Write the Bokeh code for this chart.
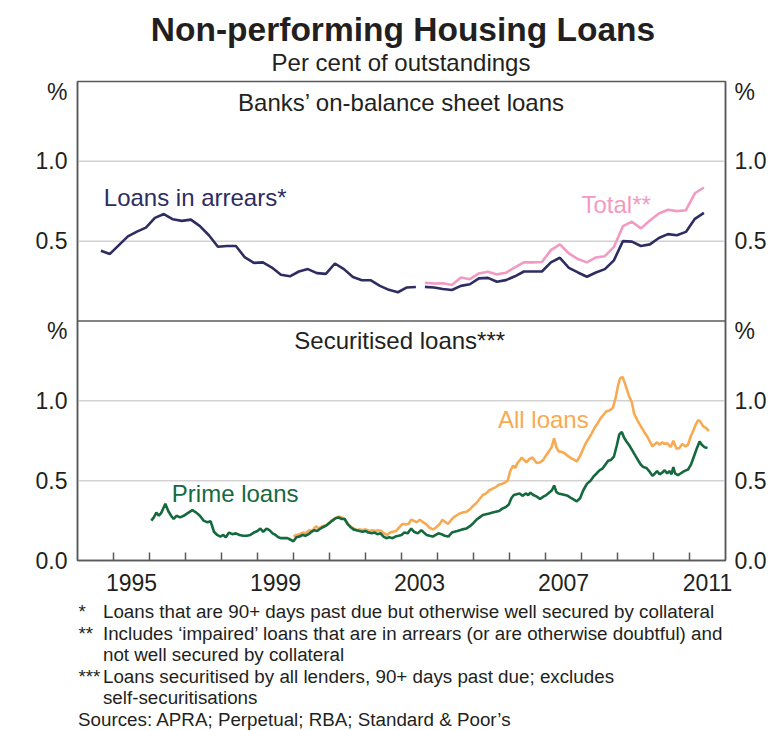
from bokeh.plotting import figure
from bokeh.models import Range1d, LinearAxis, FixedTicker, Span, Label
from bokeh.layouts import column
from bokeh.embed import file_html
from bokeh.resources import INLINE

FONT = "Liberation Sans"
TXT = "#231f20"
AXC = "#5a5a5a"
GRIDC = "#d2d2d2"
NAVY = "#2e2d62"
PINK = "#f39ac2"
ORANGE = "#f8aa52"
GREEN = "#15693f"
LW = 2.6

# ---------------- data ----------------
# Banks' on-balance sheet loans (quarterly), series break in 2003
arrears_start_1 = 1994.65
arrears_1 = [0.44, 0.42, 0.475, 0.53, 0.56, 0.585, 0.646, 0.67, 0.637, 0.627,
             0.635, 0.594, 0.537, 0.465, 0.47, 0.47, 0.398, 0.364, 0.367, 0.335,
             0.29, 0.28, 0.31, 0.325, 0.30, 0.295, 0.36, 0.325, 0.275, 0.255,
             0.255, 0.22, 0.195, 0.18, 0.21, 0.213]
arrears_start_2 = 2003.65
arrears_2 = [0.214, 0.21, 0.20, 0.194, 0.22, 0.23, 0.267, 0.27, 0.246, 0.256,
             0.28, 0.31, 0.31, 0.31, 0.367, 0.396, 0.333, 0.304, 0.277, 0.304,
             0.325, 0.38, 0.50, 0.497, 0.47, 0.48, 0.52, 0.544, 0.537, 0.558,
             0.64, 0.677]
total = [0.24, 0.235, 0.236, 0.225, 0.273, 0.262, 0.298, 0.308, 0.292, 0.302,
         0.336, 0.367, 0.367, 0.37, 0.444, 0.48, 0.423, 0.388, 0.367, 0.398,
         0.406, 0.464, 0.594, 0.622, 0.58, 0.63, 0.673, 0.697, 0.688, 0.694,
         0.80, 0.836]

# Securitised loans
prime_dates = [1996.05, 1996.12, 1996.19, 1996.26, 1996.33, 1996.44, 1996.52, 1996.60, 1996.67, 1996.75,
               1996.85, 1996.95, 1997.05, 1997.19, 1997.30, 1997.40, 1997.50, 1997.60, 1997.70, 1997.79,
               1997.88, 1997.97, 1998.05, 1998.12, 1998.21, 1998.30, 1998.40, 1998.50, 1998.60, 1998.70,
               1998.80, 1998.90, 1999.00, 1999.08, 1999.16, 1999.25, 1999.33, 1999.42, 1999.50, 1999.58,
               1999.66, 1999.75, 1999.83, 1999.92, 2000.00, 2000.08, 2000.17, 2000.25, 2000.33, 2000.42,
               2000.50, 2000.58, 2000.66, 2000.75, 2000.83, 2000.92, 2001.00, 2001.08, 2001.17, 2001.25,
               2001.33, 2001.42, 2001.50, 2001.58, 2001.66, 2001.75, 2001.83, 2001.92, 2002.00, 2002.08,
               2002.17, 2002.25, 2002.33, 2002.42, 2002.50, 2002.58, 2002.66, 2002.75, 2002.83, 2002.92,
               2003.00, 2003.08, 2003.17, 2003.27, 2003.35, 2003.45, 2003.55, 2003.62, 2003.70, 2003.78,
               2003.87, 2003.95, 2004.03, 2004.11, 2004.20, 2004.30, 2004.40, 2004.47, 2004.55, 2004.62,
               2004.70, 2004.80, 2004.90, 2005.00, 2005.08, 2005.17, 2005.26, 2005.35, 2005.44, 2005.53,
               2005.62, 2005.71, 2005.80, 2005.90, 2005.98, 2006.05, 2006.12, 2006.20, 2006.28, 2006.36,
               2006.45, 2006.52, 2006.58, 2006.66, 2006.76, 2006.85, 2006.94, 2007.02, 2007.10, 2007.18,
               2007.24, 2007.30, 2007.36, 2007.45, 2007.54, 2007.62, 2007.72, 2007.80, 2007.87, 2007.96,
               2008.05, 2008.15, 2008.25, 2008.33, 2008.42, 2008.50, 2008.58, 2008.66, 2008.74, 2008.82,
               2008.90, 2008.98, 2009.05, 2009.12, 2009.18, 2009.25, 2009.33, 2009.41, 2009.50, 2009.58,
               2009.65, 2009.72, 2009.80, 2009.88, 2009.97, 2010.04, 2010.10, 2010.17, 2010.24, 2010.31,
               2010.38, 2010.44, 2010.50, 2010.55, 2010.60, 2010.68, 2010.75, 2010.85, 2010.96, 2011.04,
               2011.12, 2011.20, 2011.28, 2011.34, 2011.42, 2011.50]
prime = [0.25, 0.27, 0.30, 0.28, 0.30, 0.355, 0.31, 0.28, 0.26, 0.28,
         0.27, 0.28, 0.295, 0.315, 0.30, 0.28, 0.25, 0.24, 0.245, 0.18,
         0.16, 0.15, 0.16, 0.145, 0.175, 0.165, 0.17, 0.16, 0.155, 0.155,
         0.16, 0.175, 0.185, 0.20, 0.18, 0.20, 0.19, 0.17, 0.16, 0.145,
         0.14, 0.14, 0.14, 0.13, 0.12, 0.145, 0.15, 0.16, 0.155, 0.165,
         0.18, 0.19, 0.185, 0.20, 0.21, 0.22, 0.235, 0.25, 0.265, 0.27,
         0.26, 0.26, 0.23, 0.21, 0.195, 0.19, 0.185, 0.18, 0.185, 0.175,
         0.17, 0.175, 0.165, 0.17, 0.15, 0.14, 0.145, 0.14, 0.15, 0.155,
         0.16, 0.175, 0.17, 0.20, 0.18, 0.17, 0.19, 0.175, 0.16, 0.155,
         0.15, 0.16, 0.17, 0.165, 0.155, 0.15, 0.175, 0.18, 0.185, 0.19,
         0.195, 0.20, 0.215, 0.235, 0.255, 0.27, 0.285, 0.29, 0.295, 0.30,
         0.305, 0.31, 0.325, 0.335, 0.35, 0.39, 0.41, 0.415, 0.42, 0.405,
         0.42, 0.41, 0.425, 0.41, 0.40, 0.385, 0.40, 0.41, 0.425, 0.44,
         0.47, 0.43, 0.42, 0.415, 0.41, 0.405, 0.39, 0.38, 0.37, 0.39,
         0.44, 0.48, 0.50, 0.525, 0.545, 0.565, 0.575, 0.60, 0.625, 0.63,
         0.65, 0.72, 0.79, 0.805, 0.77, 0.745, 0.72, 0.69, 0.655, 0.625,
         0.60, 0.585, 0.58, 0.56, 0.53, 0.545, 0.56, 0.54, 0.55, 0.565,
         0.545, 0.56, 0.54, 0.585, 0.545, 0.535, 0.545, 0.56, 0.57, 0.60,
         0.65, 0.70, 0.745, 0.725, 0.71, 0.705]

all_dates = [2000.00, 2000.08, 2000.17, 2000.26, 2000.33, 2000.44, 2000.52, 2000.62, 2000.70, 2000.80,
             2000.90, 2000.98, 2001.06, 2001.16, 2001.25, 2001.34, 2001.42, 2001.52, 2001.60, 2001.68,
             2001.76, 2001.85, 2001.92, 2002.00, 2002.10, 2002.19, 2002.28, 2002.36, 2002.43, 2002.52,
             2002.60, 2002.68, 2002.76, 2002.85, 2002.95, 2003.03, 2003.12, 2003.20, 2003.27, 2003.33,
             2003.42, 2003.51, 2003.60, 2003.70, 2003.78, 2003.87, 2003.95, 2004.05, 2004.14, 2004.22,
             2004.30, 2004.40, 2004.48, 2004.55, 2004.62, 2004.70, 2004.80, 2004.90, 2004.98, 2005.08,
             2005.17, 2005.26, 2005.35, 2005.44, 2005.53, 2005.62, 2005.71, 2005.80, 2005.88, 2005.95,
             2006.02, 2006.10, 2006.16, 2006.22, 2006.28, 2006.34, 2006.40, 2006.47, 2006.55, 2006.64,
             2006.70, 2006.76, 2006.85, 2006.94, 2007.02, 2007.10, 2007.17, 2007.24, 2007.30, 2007.36,
             2007.45, 2007.54, 2007.62, 2007.72, 2007.80, 2007.87, 2007.96, 2008.03, 2008.12, 2008.20,
             2008.28, 2008.36, 2008.45, 2008.53, 2008.60, 2008.69, 2008.78, 2008.87, 2008.95, 2009.02,
             2009.07, 2009.14, 2009.22, 2009.32, 2009.40, 2009.46, 2009.56, 2009.65, 2009.74, 2009.83,
             2009.90, 2009.97, 2010.04, 2010.10, 2010.17, 2010.24, 2010.31, 2010.38, 2010.44, 2010.48,
             2010.55, 2010.64, 2010.72, 2010.80, 2010.88, 2010.96, 2011.03, 2011.10, 2011.17, 2011.24,
             2011.30, 2011.38, 2011.46, 2011.54]
all_loans = [0.15, 0.16, 0.165, 0.175, 0.17, 0.19, 0.185, 0.215, 0.20, 0.215,
             0.22, 0.235, 0.25, 0.265, 0.275, 0.27, 0.26, 0.225, 0.21, 0.20,
             0.19, 0.195, 0.19, 0.195, 0.185, 0.19, 0.185, 0.19, 0.185, 0.17,
             0.16, 0.175, 0.18, 0.185, 0.21, 0.23, 0.225, 0.23, 0.255, 0.25,
             0.24, 0.255, 0.24, 0.225, 0.205, 0.195, 0.205, 0.225, 0.255, 0.24,
             0.23, 0.26, 0.275, 0.285, 0.295, 0.30, 0.305, 0.32, 0.34, 0.36,
             0.385, 0.41, 0.42, 0.44, 0.45, 0.46, 0.475, 0.48, 0.49, 0.50,
             0.56, 0.595, 0.58, 0.61, 0.625, 0.645, 0.63, 0.615, 0.635, 0.645,
             0.625, 0.61, 0.615, 0.63, 0.66, 0.685, 0.71, 0.765, 0.71, 0.685,
             0.68, 0.67, 0.655, 0.64, 0.63, 0.62, 0.655, 0.69, 0.735, 0.765,
             0.795, 0.83, 0.86, 0.89, 0.91, 0.935, 0.94, 0.955, 1.02, 1.10,
             1.14, 1.15, 1.10, 1.03, 0.99, 0.92, 0.875, 0.84, 0.805, 0.775,
             0.745, 0.715, 0.73, 0.74, 0.725, 0.74, 0.73, 0.735, 0.72, 0.71,
             0.75, 0.70, 0.705, 0.73, 0.715, 0.725, 0.775, 0.81, 0.85, 0.88,
             0.87, 0.84, 0.83, 0.81]

# axes
x_start, x_end = 1994, 2012
year_labels = ["1995", "1999", "2003", "2007", "2011"]
y_ticks = [0.0, 0.5, 1.0]
y_labels = ["0.0", "0.5", "1.0"]
top_ticks = [0.5, 1.0]
top_labels = ["0.5", "1.0"]
panel_max = 1.5

# ---------------- layout ----------------
W = 769
HT = 78          # title block height
HF = 132         # footnote block height
FL, FR = 77, 726 # frame left/right (all blocks share these frame edges)
FRAME_TOP_PAD = 3
FRAME_H = 479
BOTTOM_PAD = 38
HM = FRAME_TOP_PAD + FRAME_H + BOTTOM_PAD


def text_block(height):
    # frame edges coincide with the chart frame, so x values are page pixels
    f = figure(width=W, height=height, output_backend="svg", toolbar_location=None,
               x_range=Range1d(FL, FR), y_range=Range1d(height, 0),
               x_axis_location=None, y_axis_location=None,
               min_border_left=FL, min_border_right=W - FR,
               min_border_top=0, min_border_bottom=0,
               background_fill_color="white", border_fill_color="white")
    f.outline_line_color = None
    f.xgrid.visible = False
    f.ygrid.visible = False
    return f


def plabel(f, x, y, text, size, align="left", bold=False, color=TXT):
    f.add_layout(Label(x=x, y=y, text=text, text_font=FONT, text_font_size=size, text_color=color,
                       text_font_style="bold" if bold else "normal",
                       text_align=align, text_baseline="middle"))


# title block
ft = text_block(HT)
plabel(ft, 403, 29, "Non-performing Housing Loans", "33.5px", "center", True)
plabel(ft, 401, 62, "Per cent of outstandings", "24px", "center")

# main chart
p = figure(width=W, height=HM, output_backend="svg", toolbar_location=None,
           x_range=Range1d(x_start, x_end), y_range=Range1d(0, 2 * panel_max),
           x_axis_location=None, y_axis_location=None,
           min_border_left=FL, min_border_right=W - FR,
           min_border_top=FRAME_TOP_PAD, min_border_bottom=BOTTOM_PAD,
           background_fill_color="white", border_fill_color="white")
p.extra_y_ranges = {"top": Range1d(-panel_max, panel_max)}
p.outline_line_color = AXC
p.outline_line_width = 1.5
p.xgrid.visible = False
p.ygrid.visible = False

for v in y_ticks[1:]:
    p.add_layout(Span(location=v, dimension="width", line_color=GRIDC, line_width=1.5, level="underlay"))
for v in top_ticks:
    p.add_layout(Span(location=v, dimension="width", line_color=GRIDC, line_width=1.5,
                      level="underlay", y_range_name="top"))
p.add_layout(Span(location=0, dimension="width", line_color=AXC, line_width=1.5, y_range_name="top"))

pct_off = 0.0625
ticks, overrides = [], {}
for v, s in zip(y_ticks, y_labels):
    ticks.append(v); overrides[v] = s
for v, s in zip(top_ticks, top_labels):
    ticks.append(v + panel_max); overrides[v + panel_max] = s
for v in (panel_max - pct_off, 2 * panel_max - pct_off):
    ticks.append(v); overrides[v] = "%"

for side, standoff in (("left", 10), ("right", 9)):
    ax = LinearAxis(ticker=FixedTicker(ticks=ticks), major_label_overrides=overrides,
                    axis_line_color=AXC, axis_line_width=1.5,
                    major_tick_in=0, major_tick_out=0, minor_tick_in=0, minor_tick_out=0,
                    major_label_standoff=standoff,
                    major_label_text_font=FONT, major_label_text_font_size="23px",
                    major_label_text_color=TXT)
    p.add_layout(ax, side)

xticks = [int(s) + 0.5 for s in year_labels]
xax = LinearAxis(ticker=FixedTicker(ticks=xticks, minor_ticks=list(range(x_start + 1, x_end))),
                 major_label_overrides={t: s for t, s in zip(xticks, year_labels)},
                 axis_line_color=AXC, axis_line_width=1.5,
                 major_tick_in=0, major_tick_out=0,
                 minor_tick_in=8, minor_tick_out=0, minor_tick_line_color=AXC, minor_tick_line_width=1.5,
                 major_label_standoff=13,
                 major_label_text_font=FONT, major_label_text_font_size="23px",
                 major_label_text_color=TXT)
p.add_layout(xax, "below")

d1 = [arrears_start_1 + 0.25 * i for i in range(len(arrears_1))]
d2 = [arrears_start_2 + 0.25 * i for i in range(len(arrears_2))]
p.line(d1, arrears_1, line_color=NAVY, line_width=LW, y_range_name="top")
p.line(d2, total, line_color=PINK, line_width=LW, y_range_name="top")
p.line(d2, arrears_2, line_color=NAVY, line_width=LW, y_range_name="top")
p.line(all_dates, all_loans, line_color=ORANGE, line_width=LW)
p.line(prime_dates, prime, line_color=GREEN, line_width=LW)


def dlabel(x, y, text, color, rng="default", align="left"):
    p.add_layout(Label(x=x, y=y, text=text, y_range_name=rng, text_font=FONT, text_font_size="24px",
                       text_color=color, text_align=align, text_baseline="middle"))


dlabel(2003.0, 1.37, "Banks\u2019 on-balance sheet loans", TXT, "top", "center")
dlabel(2002.95, 1.375, "Securitised loans***", TXT, "default", "center")
dlabel(1994.73, 0.775, "Loans in arrears*", NAVY, "top")
dlabel(2008.0, 0.73, "Total**", PINK, "top")
dlabel(2005.68, 0.886, "All loans", ORANGE)
dlabel(1996.62, 0.417, "Prime loans", GREEN)

# footnote block
ff = text_block(HF)
notes = [("*", "Loans that are 90+ days past due but otherwise well secured by collateral"),
         ("**", "Includes \u2018impaired\u2019 loans that are in arrears (or are otherwise doubtful) and"),
         ("", "not well secured by collateral"),
         ("***", "Loans securitised by all lenders, 90+ days past due; excludes"),
         ("", "self-securitisations")]
y0, dy = 13, 21.5
for i, (mark, txt) in enumerate(notes):
    yy = y0 + dy * i
    if mark:
        plabel(ff, 78, yy, mark, "18.8px")
    plabel(ff, 102.5, yy, txt, "18.8px")
plabel(ff, 77.5, y0 + dy * len(notes), "Sources: APRA; Perpetual; RBA; Standard & Poor\u2019s", "18.8px")

layout = column(ft, p, ff, spacing=0)
open("out.html", "w").write(file_html(layout, INLINE))
